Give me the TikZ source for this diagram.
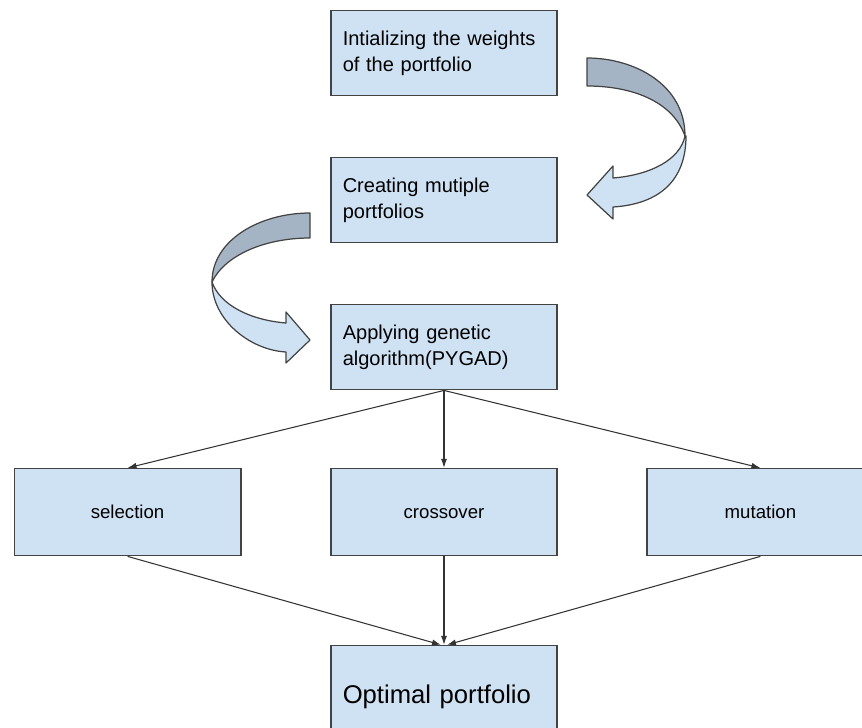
\documentclass[tikz,border=0pt]{standalone}
\usepackage{fontspec}
\setmainfont{Liberation Sans}
\usepackage{xcolor}
\usetikzlibrary{arrows.meta, positioning}

\definecolor{boxblue}{RGB}{207,226,243}
\definecolor{bandgray}{RGB}{164,180,196}
\definecolor{edgegray}{RGB}{67,67,67}

\begin{document}
\begin{tikzpicture}[
        x=0.02cm, y=-0.02cm,
        box/.style={rectangle, draw=edgegray, line width=0.85pt, fill=boxblue, minimum width=4.53cm, minimum height=1.70cm, inner xsep=0.24cm},
        stepbox/.style={box, text width=4.05cm, align=left, font=\fontsize{11.4}{14.8}\selectfont},
        opbox/.style={box, minimum height=1.74cm, align=center, text height=1.6ex, text depth=0.3ex, font=\fontsize{10.6}{13}\selectfont},
        endbox/.style={box, text width=4.05cm, align=left, minimum height=2.04cm, font=\fontsize{14.6}{17}\selectfont},
        band/.style={draw=edgegray, line width=0.7pt, line join=round},
        arrow/.style={-{Latex[length=0.18cm, width=0.12cm]}, draw=black!80, line width=0.6pt}
    ]
        \useasboundingbox (0,0) rectangle (862,727);

        % Main column
        \node[stepbox] (init) at (444,53) {Intializing the weights\\of the portfolio};
        \node[stepbox, below=1.215cm of init] (create) {Creating mutiple\\portfolios};
        \node[stepbox, below=1.21cm of create] (apply) {Applying genetic\\algorithm(PYGAD)};

        % Operators
        \node[opbox, below=1.55cm of apply] (cross) {crossover};
        \node[opbox, left=1.77cm of cross] (sel) {selection};
        \node[opbox, right=1.77cm of cross] (mut) {mutation};

        % Result
        \node[endbox, below=1.77cm of cross] (opt) {Optimal portfolio};

        % Turn arrow (right)
        \draw[band, fill=bandgray] (587,58) .. controls (635,58) and (685,85) .. (685,136)
            .. controls (672,100) and (630,86) .. (587,86) -- cycle;
        \draw[band, fill=boxblue] (685,136) .. controls (680,160) and (650,175) .. (613,178)
            -- (613,166) -- (587,195) -- (613,219) -- (613,207)
            .. controls (660,204) and (686,180) .. (686,136) -- cycle;

        % Turn arrow (left)
        \draw[band, fill=bandgray] (310,213) .. controls (260,213) and (212,240) .. (212,282)
            .. controls (225,255) and (265,238) .. (310,238) -- cycle;
        \draw[band, fill=boxblue] (212,282) .. controls (212,320) and (250,350) .. (286,352)
            -- (286,363) -- (310,340) -- (286,312) -- (286,323)
            .. controls (250,320) and (220,305) .. (212,282) -- cycle;

        % Connections
        \draw[arrow] (apply.south) -- (sel.north);
        \draw[arrow] (apply.south) -- (cross.north);
        \draw[arrow] (apply.south) -- (mut.north);

        \draw[arrow] (sel.south) -- ([xshift=-0.06cm]opt.north);
        \draw[arrow] (cross.south) -- (opt.north);
        \draw[arrow] (mut.south) -- ([xshift=0.06cm]opt.north);

    \end{tikzpicture}
\end{document}
